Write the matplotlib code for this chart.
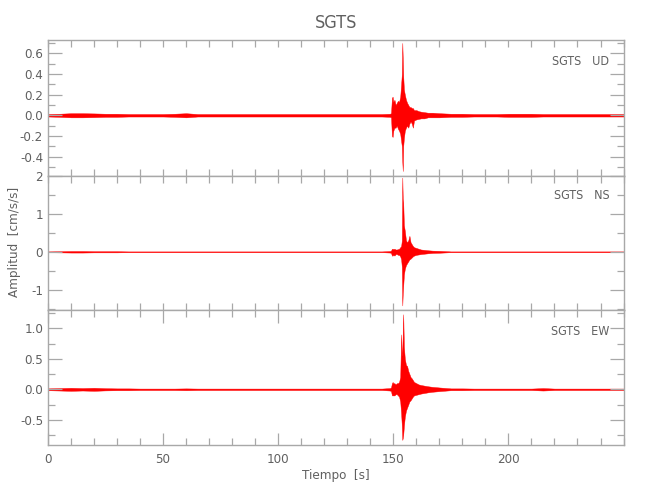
"""
Three-component accelerogram for station SGTS (UD / NS / EW).
"""

import matplotlib
matplotlib.use("Agg")
import matplotlib.pyplot as plt
from matplotlib.ticker import MultipleLocator, FormatStrFormatter

plt.rcParams["font.family"] = ["DejaVu Sans"]
plt.rcParams["font.stretch"] = "condensed"

STATION = "SGTS"
COMPONENTS = ["UD", "NS", "EW"]

# background noise: time knots (s) and half-width of the trace band
BG_PRE_T = [0, 5, 10, 15, 20, 25, 30, 35, 40, 45, 50, 55, 60, 65, 70, 75, 80, 85,
            90, 95, 100, 105, 110, 115, 120, 125, 130, 135, 140, 145]
BG_POST_T = [175, 180, 185, 190, 195, 200, 205, 210, 215, 220, 225, 230, 235, 240, 245, 250]

UD_PRE = [0.012, 0.015, 0.02, 0.02, 0.018, 0.015, 0.015, 0.012, 0.012, 0.012, 0.012, 0.015, 0.02,
          0.012, 0.012, 0.012, 0.012, 0.012, 0.012, 0.012, 0.012, 0.012, 0.012, 0.012, 0.012,
          0.012, 0.012, 0.012, 0.012, 0.012]
UD_POST = [0.015, 0.015, 0.012, 0.012, 0.012, 0.015, 0.015, 0.015, 0.012, 0.012, 0.012, 0.012,
           0.012, 0.012, 0.012, 0.012]
NS_PRE = [0.01, 0.015, 0.02, 0.02, 0.015, 0.015, 0.015, 0.01, 0.01, 0.01, 0.01, 0.01, 0.01,
          0.01, 0.01, 0.01, 0.01, 0.01, 0.01, 0.01, 0.01, 0.01, 0.01, 0.01, 0.01,
          0.01, 0.01, 0.01, 0.01, 0.01]
NS_POST = [0.01, 0.01, 0.01, 0.01, 0.01, 0.01, 0.01, 0.01, 0.01, 0.01, 0.01, 0.01,
           0.01, 0.01, 0.01, 0.01]
EW_PRE = [0.015, 0.02, 0.025, 0.02, 0.025, 0.018, 0.015, 0.015, 0.012, 0.012, 0.012, 0.012, 0.015,
          0.012, 0.012, 0.012, 0.012, 0.012, 0.012, 0.012, 0.012, 0.012, 0.012, 0.012, 0.012,
          0.012, 0.012, 0.012, 0.012, 0.012]
EW_POST = [0.015, 0.015, 0.012, 0.012, 0.012, 0.012, 0.012, 0.012, 0.02, 0.012, 0.012, 0.012,
           0.012, 0.012, 0.012, 0.012]

# event window: time knots (s) with upper / lower envelope of the trace
EVENT_T = [148.5, 149.0, 149.4, 149.7, 150.0, 150.5, 151.0, 151.5, 152.0, 152.5, 153.0,
           153.4, 153.7, 153.9, 154.1, 154.3, 154.6, 155.0, 155.5, 156.0, 156.5, 157.0,
           157.5, 158.0, 158.5, 159.0, 160.0, 161.0, 162.0, 163.5, 165.0, 167.0, 170.0]

UD_HI = [0.015, 0.02, 0.17, 0.18, 0.13, 0.15, 0.10, 0.12, 0.14, 0.13, 0.18,
         0.30, 0.40, 0.70, 0.55, 0.38, 0.25, 0.20, 0.15, 0.12, 0.10, 0.08,
         0.08, 0.07, 0.07, 0.05, 0.05, 0.04, 0.035, 0.03, 0.025, 0.025, 0.02]
UD_LO = [-0.015, -0.02, -0.20, -0.21, -0.15, -0.12, -0.12, -0.10, -0.13, -0.15, -0.18,
         -0.25, -0.30, -0.45, -0.54, -0.30, -0.22, -0.15, -0.12, -0.10, -0.12, -0.08,
         -0.06, -0.08, -0.12, -0.05, -0.04, -0.035, -0.03, -0.03, -0.02, -0.02, -0.02]

NS_HI = [0.02, 0.03, 0.08, 0.08, 0.07, 0.08, 0.06, 0.06, 0.07, 0.08, 0.12,
         0.15, 0.30, 1.95, 1.40, 1.30, 0.70, 0.55, 0.30, 0.25, 0.30, 0.42,
         0.25, 0.20, 0.15, 0.12, 0.10, 0.08, 0.06, 0.05, 0.04, 0.03, 0.025]
NS_LO = [-0.02, -0.03, -0.10, -0.10, -0.08, -0.10, -0.06, -0.06, -0.08, -0.08, -0.12,
         -0.20, -0.40, -1.41, -1.10, -0.90, -0.60, -0.45, -0.35, -0.30, -0.25, -0.20,
         -0.18, -0.15, -0.12, -0.10, -0.08, -0.07, -0.06, -0.05, -0.04, -0.03, -0.025]

EW_HI = [0.02, 0.03, 0.10, 0.12, 0.10, 0.10, 0.08, 0.10, 0.10, 0.12, 0.20,
         0.90, 0.55, 0.60, 0.95, 1.23, 0.70, 0.50, 0.40, 0.38, 0.30, 0.25,
         0.20, 0.18, 0.15, 0.12, 0.10, 0.08, 0.07, 0.06, 0.05, 0.04, 0.03]
EW_LO = [-0.02, -0.03, -0.10, -0.10, -0.10, -0.10, -0.08, -0.08, -0.10, -0.12, -0.20,
         -0.40, -0.60, -0.83, -0.80, -0.75, -0.60, -0.45, -0.35, -0.30, -0.25, -0.20,
         -0.18, -0.15, -0.12, -0.10, -0.09, -0.08, -0.07, -0.06, -0.05, -0.04, -0.03]

X_TICKS = [0, 50, 100, 150, 200]

GRAY_TXT = "#606060"
GRAY_AX = "#a8a8a8"
TRACE = "#ff0000"


def trace(pre, hi, lo, post):
    t = BG_PRE_T + EVENT_T + BG_POST_T
    upper = pre + hi + post
    lower = [-a for a in pre] + lo + [-a for a in post]
    return t, upper, lower


def main():
    fig = plt.figure(figsize=(6.5, 5), dpi=100)

    panels = [
        (trace(UD_PRE, UD_HI, UD_LO, UD_POST), (-0.585, 0.726), 0.2, 0.1, "%.1f"),
        (trace(NS_PRE, NS_HI, NS_LO, NS_POST), (-1.53, 2.0), 1.0, 0.5, "%d"),
        (trace(EW_PRE, EW_HI, EW_LO, EW_POST), (-0.913, 1.30), 0.5, 0.25, "%.1f"),
    ]
    # axes boxes in figure fractions (left, bottom, width, height)
    boxes = [
        (0.0738, 0.6486, 0.8855, 0.2708),
        (0.0738, 0.3800, 0.8855, 0.2686),
        (0.0738, 0.1100, 0.8855, 0.2700),
    ]
    label_y = [0.842, 0.849, 0.844]

    for i, ((data, ylim, major, minor, fmt), box, comp) in enumerate(zip(panels, boxes, COMPONENTS)):
        ax = fig.add_axes(box)
        t, upper, lower = data
        ax.fill_between(t, lower, upper, color=TRACE, linewidth=0.3, edgecolor=TRACE)

        ax.set_xlim(0, 250)
        ax.set_ylim(*ylim)
        ax.xaxis.set_major_locator(MultipleLocator(50))
        ax.xaxis.set_minor_locator(MultipleLocator(10))
        ax.yaxis.set_major_locator(MultipleLocator(major))
        ax.yaxis.set_minor_locator(MultipleLocator(minor))
        ax.yaxis.set_major_formatter(FormatStrFormatter(fmt))

        for s in ax.spines.values():
            s.set_color(GRAY_AX)
            s.set_linewidth(1.0)

        ax.tick_params(axis="both", which="both", direction="in", colors=GRAY_AX,
                       labelcolor=GRAY_TXT, labelsize=9.5, top=True, right=True, width=0.9)
        ax.tick_params(axis="y", which="major", length=10)
        ax.tick_params(axis="y", which="minor", length=5)
        if i < 2:
            ax.tick_params(axis="x", which="both", length=5, labelbottom=False)
        else:
            ax.tick_params(axis="x", which="major", length=9, pad=6)
            ax.tick_params(axis="x", which="minor", length=5)
            ax.set_xticks(X_TICKS)
            ax.set_xlabel("Tiempo  [s]", color=GRAY_TXT, fontsize=9.5, labelpad=2)

        ax.text(0.975, label_y[i], f"{STATION}   {comp}", transform=ax.transAxes,
                ha="right", va="center", color=GRAY_TXT, fontsize=9)

    fig.text(0.5165, 0.953, STATION, ha="center", va="center", color=GRAY_TXT, fontsize=13)
    fig.text(0.023, 0.516, "Amplitud  [cm/s/s]", rotation=90, ha="center", va="center",
             color=GRAY_TXT, fontsize=9.5)

    fig.savefig("out.png", dpi=100)
    plt.close(fig)


if __name__ == "__main__":
    main()
